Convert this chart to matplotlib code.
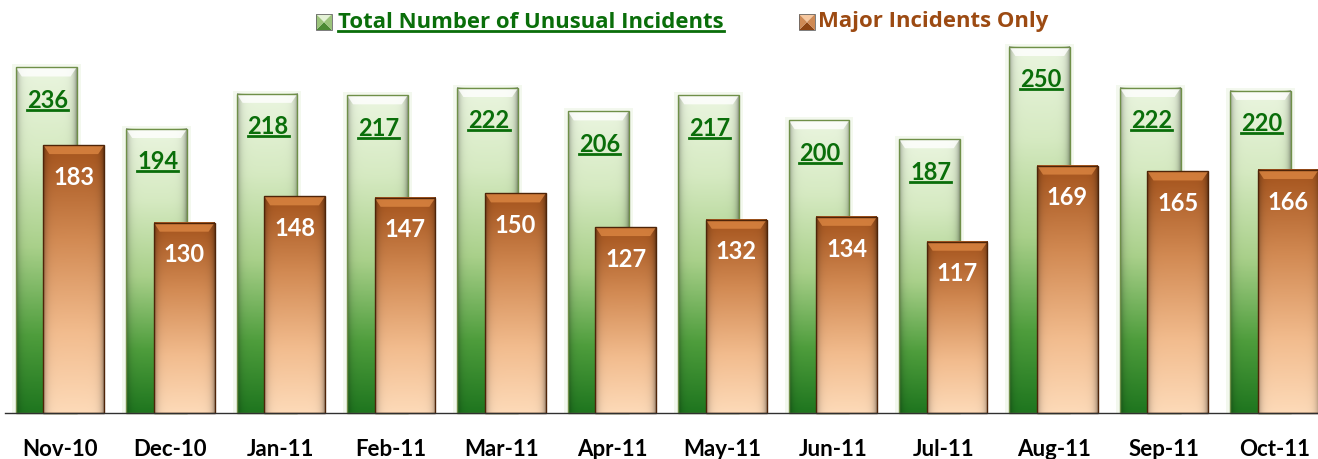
import numpy as np
import matplotlib
matplotlib.use('Agg')
import matplotlib.pyplot as plt
from matplotlib.colors import LinearSegmentedColormap
from matplotlib.patches import Rectangle, Polygon
from matplotlib.lines import Line2D

months = ['Nov-10', 'Dec-10', 'Jan-11', 'Feb-11', 'Mar-11', 'Apr-11',
          'May-11', 'Jun-11', 'Jul-11', 'Aug-11', 'Sep-11', 'Oct-11']
total = [236, 194, 218, 217, 222, 206, 217, 200, 187, 250, 222, 220]
major = [183, 130, 148, 147, 150, 127, 132, 134, 117, 169, 165, 166]

FONT = 'Lato'
GREEN_TXT = '#0a6e0a'
ORANGE_TXT = '#9c4a12'

green_cmap = LinearSegmentedColormap.from_list('g', [
    (0.0, '#1f761f'), (0.22, '#4e9d3c'), (0.48, '#a9d08a'),
    (0.75, '#d6eac2'), (1.0, '#eaf5df')])
orange_cmap = LinearSegmentedColormap.from_list('o', [
    (0.0, '#fddab8'), (0.3, '#f2bc8e'), (0.65, '#d28a53'),
    (1.0, '#a4531c')])

fig = plt.figure(figsize=(13.18, 4.59), dpi=100)
ax = fig.add_axes([5 / 1318, 46 / 459, 1313 / 1318, 366 / 459])
ax.set_xlim(-0.498, 11.395)
ax.set_ylim(0, 250)
for s in ['top', 'right', 'left']:
    ax.spines[s].set_visible(False)
ax.spines['bottom'].set_color('#303030')
ax.spines['bottom'].set_linewidth(1.0)
ax.spines['bottom'].set_zorder(20)
ax.set_yticks([])

W = 0.55
OFF = 0.125
px_x = 110.4   # px per x unit
px_y = 1.464   # px per y unit


def grad_bar(x0, h, cmap, edge, bevel_col, bevel_alpha, z):
    x1 = x0 + W
    ny, nx = 200, 60
    t = np.linspace(0, 1, ny)[:, None]
    u = np.linspace(0, 1, nx)[None, :]
    rgb = cmap(np.repeat(t, nx, axis=1))[..., :3]
    d = np.exp(-u / 0.05) + np.exp(-(1 - u) / 0.05)
    fac = 1 - 0.35 * d
    rgb = np.clip(rgb * fac[..., None], 0, 1)
    ax.imshow(rgb, extent=(x0, x1, 0, h), origin='lower', aspect='auto',
              interpolation='bilinear', zorder=z, clip_on=False)
    bw = 6 / px_x
    bh = 9 / px_y
    top = Polygon([(x0, h), (x1, h), (x1 - bw, h - bh), (x0 + bw, h - bh)],
                  closed=True, facecolor=bevel_col, alpha=bevel_alpha,
                  edgecolor='none', zorder=z + 0.1, clip_on=False)
    ax.add_patch(top)
    ax.add_patch(Rectangle((x0, 0), W, h, facecolor='none', edgecolor=edge,
                           linewidth=1.0, zorder=z + 0.2, clip_on=False))


x = np.arange(len(months))
for i in range(len(months)):
    gx0 = x[i] - OFF - W / 2
    ox0 = x[i] + OFF - W / 2
    # soft halo around green bars
    ax.add_patch(Rectangle((gx0 - 4 / px_x, 0), W + 8 / px_x, total[i] + 3 / px_y,
                           facecolor='#d9ebc8', alpha=0.3, edgecolor='none',
                           zorder=1, clip_on=False))
    grad_bar(gx0, total[i], green_cmap, '#6f8f48', 'white', 0.8, 2 + i * 0.01)
    grad_bar(ox0, major[i], orange_cmap, '#4e2408', '#e08a45', 0.75, 5 + i * 0.01)

ax.set_xticks(x)
ax.set_xticklabels(months, fontsize=16, fontweight='bold', family=FONT)
ax.tick_params(axis='x', length=0, pad=19)

green_labels = []
for i in range(len(months)):
    t = ax.text(x[i] - OFF + 0.01, total[i] - 22.5, str(total[i]), ha='center',
                va='center', fontsize=17, fontweight='bold', color=GREEN_TXT,
                family=FONT, zorder=30)
    green_labels.append(t)
    ax.text(x[i] + OFF, major[i] - 22, str(major[i]), ha='center',
            va='center', fontsize=17, fontweight='bold', color='white',
            family=FONT, zorder=30)

# legend
t1 = fig.text(338 / 1318, 1 - 22 / 459, 'Total Number of Unusual Incidents',
              ha='left', va='center', fontsize=15.9, fontweight='bold',
              color=GREEN_TXT, family='Open Sans')
t2 = fig.text(818 / 1318, 1 - 22 / 459, 'Major Incidents Only',
              ha='left', va='center', fontsize=15.9, fontweight='bold',
              color=ORANGE_TXT, family='Open Sans')


def legend_square(px, py, c_dark, c_mid, c_light):
    s = 16
    x0, y0 = px / 1318, 1 - (py + s / 2) / 459
    w, hh = s / 1318, s / 459
    cx, cy = x0 + w / 2, y0 + hh / 2
    tris = [([(x0, y0 + hh), (x0 + w, y0 + hh), (cx, cy)], c_light),
            ([(x0, y0), (x0 + w, y0), (cx, cy)], c_dark),
            ([(x0, y0), (x0, y0 + hh), (cx, cy)], c_mid),
            ([(x0 + w, y0), (x0 + w, y0 + hh), (cx, cy)], c_mid)]
    for pts, c in tris:
        fig.patches.append(Polygon(pts, closed=True, facecolor=c, edgecolor='none',
                                   transform=fig.transFigure, figure=fig))
    fig.patches.append(Rectangle((x0, y0), w, hh, facecolor='none',
                                 edgecolor='#666666', linewidth=0.6,
                                 transform=fig.transFigure, figure=fig))


legend_square(316, 22, '#4c8a34', '#9cc47c', '#e4f2d6')
legend_square(799, 22, '#8e4514', '#cf8a55', '#f6c8a0')

# underlines
fig.canvas.draw()
r = fig.canvas.get_renderer()
inv = fig.transFigure.inverted()
for t in [t1] + green_labels:
    bb = t.get_window_extent(r)
    (fx0, fy0), (fx1, fy1) = inv.transform([(bb.x0, bb.y0), (bb.x1, bb.y1)])
    yy = fy0 + 2.0 / 459
    fig.lines.append(Line2D([fx0, fx1], [yy, yy], color=GREEN_TXT, linewidth=2.0,
                            transform=fig.transFigure, figure=fig, zorder=40))

fig.savefig('out.png', dpi=100)
